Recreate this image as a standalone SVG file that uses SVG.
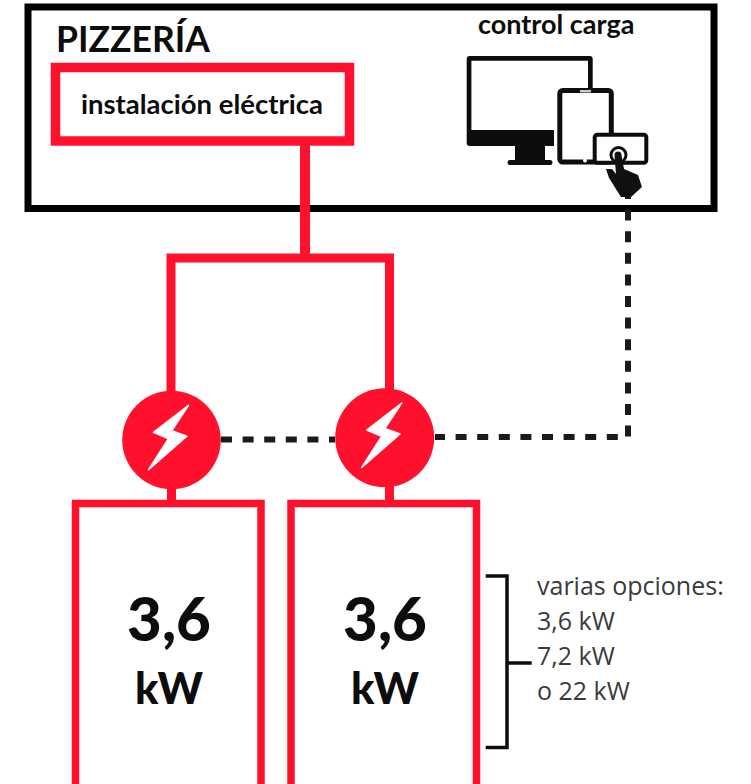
<svg xmlns="http://www.w3.org/2000/svg" width="751" height="784" viewBox="0 0 751 784">
<style>
.red{fill:none;stroke:#ff102d;stroke-linejoin:miter}
.dash{fill:none;stroke:#1a1a1a;stroke-width:6;stroke-dasharray:11 10.6}
.bold{font-family:"Lato","Carlito","Liberation Sans",sans-serif;font-weight:700;fill:#0d0d0d}
.heavy{font-family:"Lato","Carlito","Liberation Sans",sans-serif;font-weight:900;fill:#0d0d0d}
.light{font-family:"Open Sans","Noto Sans",sans-serif;font-size:25px;fill:#3a3a3a}
.disc{fill:#ff102d}
.ink{fill:none;stroke:#0d0d0d}
</style>
<defs>
<path id="bolt" d="M17 -34.700L-18 -7.700L-3 -1.300L-23 29.700L15.300 -3.700L0.300 -9.300Z" fill="#fff" stroke="#fff" stroke-width="1.500" stroke-linejoin="round"/>
</defs>
<g id="pizzeria">
<rect x="28" y="7" width="686" height="201.500" fill="#fff" stroke="#000" stroke-width="7"/>
<text class="bold" x="56" y="52" font-size="35.500">PIZZERÍA</text>
</g>
<g id="connectors">
<path class="red" stroke-width="10" d="M305 145V258"/>
<path class="red" stroke-width="9" d="M171 395V258H389.500V395"/>
<path class="red" stroke-width="9" d="M171.500 485V502M389.500 485V502"/>
<path class="dash" d="M628 188V437H435"/>
<path class="dash" d="M221 439.500H335"/>
</g>
<g id="instalacion">
<rect x="55.500" y="67.500" width="294" height="73.500" fill="#fff" stroke="#ff102d" stroke-width="9.500"/>
<text class="bold" x="81" y="114" font-size="27.500">instalación eléctrica</text>
</g>
<g id="control">
<text class="bold" x="478" y="34" font-size="27">control carga</text>
<path d="M592.700 88V59a3 3 0 0 0-3-3H469.700a3 3 0 0 0-3 3V143a3 3 0 0 0 3 3H515V160H510a2.500 2.500 0 0 0 0 5H550a2.500 2.500 0 0 0 0-5H545V146H554V130H471.400V60.700H588V88Z" fill="#0d0d0d"/>
<rect x="559.800" y="90.500" width="51.500" height="71.500" rx="3" fill="#fff" stroke="#0d0d0d" stroke-width="5"/>
<rect x="580" y="90" width="11" height="2.500" fill="#ccc"/>
<circle cx="585" cy="160.500" r="2" fill="#fff"/>
<rect x="594.700" y="134.700" width="51.600" height="28" rx="2.500" fill="#fff" stroke="#0d0d0d" stroke-width="4"/>
<circle cx="618.500" cy="155" r="7.500" fill="#fff" stroke="#0d0d0d" stroke-width="3"/>
<path d="M614.500 155a3.500 3.500 0 0 1 7 0L624 169L638 175L642 187L631 197H621L609 178L606 169L612 169L616 174Z" fill="#111"/>
</g>
<g id="charger-left"><circle class="disc" cx="171.500" cy="440" r="49.300"/><use href="#bolt" x="171.500" y="440"/></g>
<g id="charger-right"><circle class="disc" cx="384.700" cy="437.700" r="49.500"/><use href="#bolt" x="384.700" y="437.700"/></g>
<g id="box-left">
<rect x="75.500" y="503.500" width="185.500" height="300" fill="#fff" stroke="#ff102d" stroke-width="7.500"/>
<text class="heavy" x="169" y="641" font-size="60" text-anchor="middle">3,6</text>
<text class="heavy" x="169" y="704" font-size="43" text-anchor="middle">kW</text>
</g>
<g id="box-right">
<rect x="291" y="503.500" width="185.500" height="300" fill="#fff" stroke="#ff102d" stroke-width="7.500"/>
<text class="heavy" x="385" y="641" font-size="60" text-anchor="middle">3,6</text>
<text class="heavy" x="385" y="704" font-size="43" text-anchor="middle">kW</text>
</g>
<g id="options">
<path class="ink" stroke-width="3.500" d="M485.700 576H507V747.500H485.700M507 663H531.700"/>
<text class="light" x="537" y="595">varias opciones:</text>
<text class="light" x="537" y="630">3,6 kW</text>
<text class="light" x="537" y="665">7,2 kW</text>
<text class="light" x="537" y="700">o 22 kW</text>
</g>
</svg>
